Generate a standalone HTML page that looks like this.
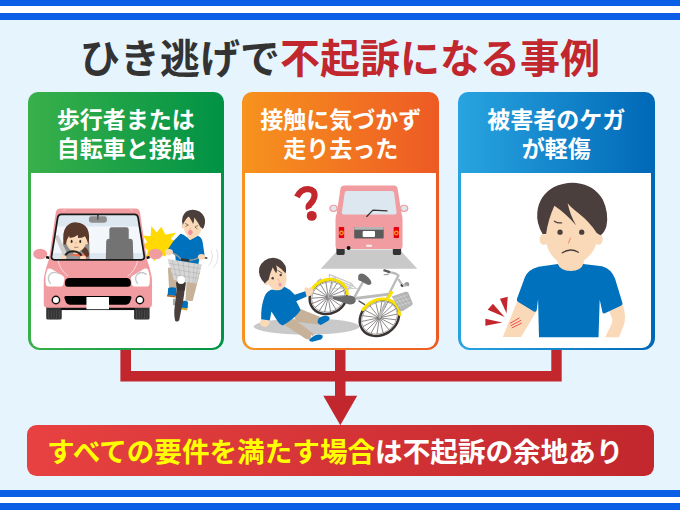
<!DOCTYPE html>
<html lang="ja">
<head>
<meta charset="utf-8">
<title>ひき逃げで不起訴になる事例</title>
<style>
html,body{margin:0;padding:0;}
body{width:680px;height:510px;overflow:hidden;background:#e6f4fe;font-family:"Liberation Sans",sans-serif;position:relative;}
.stripe{position:absolute;left:0;width:680px;height:20px;}
.stripe.top{top:0;background:linear-gradient(#0b5fe6 0,#0b5fe6 6.4px,#fff 6.4px,#fff 13.1px,#0b5fe6 13.1px,#0b5fe6 20px);}
.stripe.bot{top:490px;background:linear-gradient(#0b5fe6 0,#0b5fe6 6.8px,#fff 6.8px,#fff 13.5px,#0b5fe6 13.5px,#0b5fe6 20px);}
.card{position:absolute;top:92.4px;width:196.7px;height:258.1px;border-radius:10px 10px 12px 12px;}
.card .body{position:absolute;left:3.1px;right:3.1px;top:80.6px;bottom:2.9px;background:#fff;border-radius:0 0 9px 9px;}
#c1{left:27.5px;background:linear-gradient(90deg,#39b04a,#009245);}
#c2{left:242.3px;background:linear-gradient(90deg,#f7931e,#ed5a24);}
#c3{left:457.9px;background:linear-gradient(90deg,#29a4e0,#0068b7);}
.banner{position:absolute;left:27.3px;top:425.2px;width:627px;height:50.6px;border-radius:9.5px;background:linear-gradient(90deg,#e84141,#c1272d);}
.sr{position:absolute;color:transparent;font-size:1px;line-height:1px;overflow:hidden;width:1px;height:1px;white-space:nowrap;}
svg.layer{position:absolute;left:0;top:0;width:680px;height:510px;}
svg.layer text{font-family:"Liberation Sans","Noto Sans CJK JP",sans-serif;font-weight:bold;}
</style>
</head>
<body>
<div class="stripe top"></div>
<div class="stripe bot"></div>
<h1 class="sr" style="left:78px;top:40px;margin:0">ひき逃げで不起訴になる事例</h1>
<div class="card" id="c1"><div class="body"></div><p class="sr" style="margin:0;left:30px;top:20px">歩行者または自転車と接触</p></div>
<div class="card" id="c2"><div class="body"></div><p class="sr" style="margin:0;left:30px;top:20px">接触に気づかず走り去った</p></div>
<div class="card" id="c3"><div class="body"></div><p class="sr" style="margin:0;left:30px;top:20px">被害者のケガが軽傷</p></div>
<svg class="layer" viewBox="0 0 680 510">
<g id="arrows" fill="#c1272d">
<path d="M120.4 350h10.6v21.1h204V350h10.5v21.1h205.8V350h10.4v31.6H345.5v14.2h11.7L340.3 425.2 323.3 395.8h11.7V381.6H120.4z"/>
</g>
</svg>
<div class="banner"><p class="sr" style="margin:0;left:20px;top:12px">すべての要件を満たす場合は不起訴の余地あり</p></div>
<svg class="layer" viewBox="0 0 680 510">
<g id="title">
<text x="80" y="73" font-size="40" fill="#333">ひき逃げで<tspan fill="#c1272d">不起訴になる事例</tspan></text>
</g>
<g id="heads" fill="#fff">
<text x="125.85" y="128" font-size="23" text-anchor="middle">歩行者または</text>
<text x="125.85" y="157" font-size="23" text-anchor="middle">自転車と接触</text>
<text x="340.65" y="128" font-size="23" text-anchor="middle">接触に気づかず</text>
<text x="340.65" y="157" font-size="23" text-anchor="middle">走り去った</text>
<text x="556.25" y="128" font-size="23" text-anchor="middle">被害者のケガ</text>
<text x="556.25" y="157" font-size="23" text-anchor="middle">が軽傷</text>
</g>
<g id="bannertext">
<text x="47" y="462" font-size="27.6" fill="#ffff00">すべての要件を満たす場合<tspan fill="#fff">は不起訴の余地あり</tspan></text>
</g>
<g id="ill1">
<defs>
  <clipPath id="wsclip"><path d="M178 82 L592 82 Q610 82 613 100 L648 320 Q650 338 630 339 L140 339 Q120 338 122 320 L157 100 Q160 82 178 82 Z"/></clipPath>
</defs>
<!-- burst (behind mirror & cyclist) : cyclist zoom coords [140,205,225,285] scale 6.376 -->
<g transform="translate(140,205) scale(0.156832)">
  <path fill="#ffd900" d="M18 195 L68 200 L72 134 L106 176 L136 138 L162 190 L230 175 L196 216 L240 240 L200 262 L215 300 L175 300 L162 328 L122 314 L88 360 L76 320 L38 332 L50 290 L18 256 L46 236 Z"/>
  <!-- motion lines -->
  <path d="M452 288 Q478 340 438 388 M488 284 Q515 345 468 402" stroke="#c9c9c9" stroke-width="3.5" fill="none" stroke-linecap="round"/>
</g>
<!-- car: zoom coords [30,200,130,290] scale 5.67 -->
<g transform="translate(30,200) scale(0.17637)">
  <!-- tires -->
  <rect x="92" y="596" width="88" height="82" rx="9" fill="#333"/>
  <rect x="590" y="596" width="88" height="82" rx="9" fill="#333"/>
  <path d="M106 625v50M121 625v52M136 625v52M151 625v52M166 625v50M604 625v50M619 625v52M634 625v52M649 625v52M664 625v50" stroke="#555" stroke-width="4"/>
  <rect x="175" y="600" width="420" height="24" fill="#111"/>
  <!-- mirrors -->
  <path d="M92 316 L112 322 L110 336 L90 330 Z M678 316 L658 322 L660 336 L680 330 Z" fill="#111"/>
  <ellipse cx="58" cy="306" rx="40" ry="30" fill="#f19ca0"/>
  <ellipse cx="712" cy="306" rx="40" ry="30" fill="#f19ca0"/>
  <!-- body -->
  <path fill="#f19ca0" d="M385 48 L172 48 Q150 48 146 72 L108 335 Q85 400 78 450 L78 590 Q78 611 98 611 L672 611 Q692 611 692 590 L692 450 Q685 400 662 335 L624 72 Q620 48 598 48 Z"/>
  <!-- windshield -->
  <path fill="#dde7f0" d="M178 82 L592 82 Q610 82 613 100 L648 320 Q650 338 630 339 L140 339 Q120 338 122 320 L157 100 Q160 82 178 82 Z"/>
  <g clip-path="url(#wsclip)">
    <path d="M150 150 L620 150 L640 300 L130 300 Z" fill="#f3f7fb"/>
    <!-- passenger seat -->
    <rect x="450" y="155" width="110" height="75" rx="14" fill="#737373"/>
    <path d="M445 220 L568 220 Q582 220 583 235 L586 340 L430 340 L432 235 Q433 220 445 220 Z" fill="#737373"/>
    <!-- driver seat -->
    <path d="M200 225 L322 225 Q336 225 336 240 L338 340 L186 340 L187 240 Q188 225 200 225 Z" fill="#8c8c8c"/>
    <!-- seatbelt -->
    <path d="M138 205 L160 198 L212 305 L190 318 Z" fill="#cfcfcf"/>
    <!-- body clothes -->
    <path d="M228 312 Q270 298 315 308 L325 340 L222 340 Z" fill="#f26a4b"/>
    <!-- ponytail -->
    <path d="M298 262 Q330 270 335 305 Q335 325 318 322 Q305 300 292 290 Z" fill="#5b3a2e"/>
    <!-- neck -->
    <rect x="245" y="275" width="36" height="30" fill="#fad9b8"/>
    <!-- face -->
    <path d="M204 215 Q204 290 262 292 Q320 290 320 215 L320 180 L204 180 Z" fill="#fad9b8"/>
    <ellipse cx="203" cy="238" rx="10" ry="14" fill="#fad9b8"/>
    <ellipse cx="321" cy="238" rx="10" ry="14" fill="#fad9b8"/>
    <!-- hair -->
    <path fill="#5b3a2e" d="M192 252 Q180 185 205 152 Q232 124 265 127 Q305 130 324 160 Q342 195 331 255 Q326 228 312 205 Q295 216 272 216 Q274 204 270 198 Q252 213 226 216 Q224 209 221 204 Q207 222 204 252 Z"/>
    <ellipse cx="236" cy="235" rx="5.5" ry="9" fill="#3a2a25"/>
    <ellipse cx="285" cy="235" rx="5.5" ry="9" fill="#3a2a25"/>
    <path d="M256 243 l6 0" stroke="#f0916b" stroke-width="4" stroke-linecap="round"/>
    <path d="M252 268 l20 0" stroke="#7a4a3a" stroke-width="3.5" stroke-linecap="round"/>
    <!-- steering wheel -->
    <ellipse cx="246" cy="330" rx="38" ry="16" fill="#9a9a9a"/><path d="M194 326 Q206 292 244 291 Q282 292 296 324" stroke="#222" stroke-width="11" fill="none"/>
    <!-- hands -->
    <ellipse cx="190" cy="325" rx="17" ry="13" fill="#fad9b8"/>
    <ellipse cx="300" cy="327" rx="17" ry="13" fill="#fad9b8"/>
    <!-- rear-view mirror -->
    <rect x="380" y="80" width="9" height="30" fill="#444"/>
    <rect x="334" y="92" width="102" height="37" rx="14" fill="#8c8c8c"/>
    <rect x="380" y="84" width="9" height="28" fill="#555"/>
  </g>
  <path fill="none" stroke="#1a1a1a" stroke-width="10" d="M178 82 L592 82 Q610 82 613 100 L648 320 Q650 338 630 339 L140 339 Q120 338 122 320 L157 100 Q160 82 178 82 Z"/>
  <!-- hood lines -->
  <path d="M160 345 Q172 400 216 432 M610 345 Q598 400 554 432" stroke="#fff" stroke-width="3.5" fill="none"/>
  <path d="M190 62 l8 -8 M580 62 l-8 -8" stroke="#fff" stroke-width="3.5" fill="none"/>
  <!-- headlights -->
  <path fill="#fff" d="M108 388 Q100 388 96 400 L88 432 Q86 455 90 480 Q92 490 102 490 L178 490 Q188 490 190 478 L195 445 Q196 436 186 430 L120 390 Q114 387 108 388 Z"/>
  <path fill="#fff" d="M659 388 Q667 388 671 400 L679 432 Q681 455 677 480 Q675 490 665 490 L589 490 Q579 490 577 478 L572 445 Q571 436 581 430 L647 390 Q653 387 659 388 Z"/>
  <path d="M164 418 Q128 398 108 428 Q98 452 116 474" stroke="#c2c6c6" stroke-width="7" fill="none" stroke-linecap="round"/>
  <path d="M660 421 Q624 398 603 428 Q592 452 610 472" stroke="#c2c6c6" stroke-width="7" fill="none" stroke-linecap="round"/>
  <!-- grilles -->
  <path d="M222 442 L548 442 Q565 442 570 458 Q576 475 570 485 Q565 492 552 492 L218 492 Q205 492 200 485 Q194 475 200 458 Q205 442 222 442 Z" fill="#000"/>
  <path d="M205 544 L565 544 Q578 544 574 558 L566 580 Q560 594 545 594 L225 594 Q210 594 204 580 L196 558 Q192 544 205 544 Z" fill="#000"/>
  <!-- fog lights -->
  <circle cx="147" cy="567" r="25" fill="#111"/><circle cx="147" cy="567" r="17" fill="#fff"/>
  <circle cx="623" cy="567" r="25" fill="#111"/><circle cx="623" cy="567" r="17" fill="#fff"/>
  <!-- plate -->
  <rect x="320" y="550" width="128" height="70" rx="3" fill="#fff"/>
</g>
<!-- cyclist: zoom coords [140,205,225,285] scale 6.376 -->
<g transform="translate(140,205) scale(0.156832)">
  <!-- pants -->
  <path d="M178 400 L235 400 L238 530 L185 530 Z" fill="#c7b299"/>
  <path d="M300 430 L385 420 L336 612 L290 610 Z" fill="#c7b299"/>
  <!-- shoes -->
  <path d="M180 530 Q205 518 232 530 L232 580 L176 575 Z" fill="#0071bc"/>
  <path d="M172 572 L228 580 L226 590 L172 584 Z" fill="#b5651d"/>
  <path d="M264 615 Q290 605 306 618 L304 660 L260 655 Z" fill="#0071bc"/>
  <path d="M258 652 L302 660 L300 672 L257 665 Z" fill="#d9a021"/>
  <rect x="210" y="598" width="14" height="42" rx="4" fill="#aaa"/>
  <!-- tire -->
  <path d="M238 500 L286 500 Q286 565 268 645 L250 735 Q238 750 224 738 Q214 700 222 640 Z" fill="#4a3f3d"/>
  <path d="M230 500 Q232 478 262 478 Q292 478 292 500 L286 545 L236 545 Z" fill="#3a3432"/>
  <!-- neck -->
  <path d="M305 185 L352 195 L345 235 L300 225 Z" fill="#fad9b8"/>
  <!-- body -->
  <path fill="#0071bc" d="M258 183 Q290 190 318 225 Q350 210 365 195 Q395 205 400 240 L412 322 L378 345 L372 380 L228 355 L225 322 L200 300 L178 282 Q210 225 258 183 Z"/>
  <!-- head -->
  <path d="M275 120 Q270 70 330 60 Q395 65 395 130 Q392 175 365 200 Q340 220 310 205 Q280 185 275 120 Z" fill="#fad9b8"/>
  <ellipse cx="277" cy="135" rx="12" ry="15" fill="#fad9b8"/>
  <path fill="#4b3f3d" d="M272 128 Q257 75 295 42 Q335 18 380 42 Q422 72 414 120 Q410 142 400 153 Q392 144 385 140 Q366 105 346 80 Q346 100 339 121 Q326 95 311 74 Q298 82 291 94 Q280 110 272 128 Z"/>
  <!-- eyes -->
  <path d="M290 118 L308 128 L292 136 M368 132 L350 140 L364 152" stroke="#4b3f3d" stroke-width="4" fill="none" stroke-linecap="round" stroke-linejoin="round"/>
  <path d="M322 146 l-4 10" stroke="#f0916b" stroke-width="3.5" stroke-linecap="round"/>
  <ellipse cx="321" cy="175" rx="15" ry="16" fill="#f4919d" transform="rotate(10 321 175)"/>
  <!-- handlebar -->
  <path d="M205 305 Q235 315 262 345 M318 352 Q350 350 385 332" stroke="#9a9a9a" stroke-width="9" fill="none" stroke-linecap="round"/>
  <path d="M398 334 L425 338" stroke="#4a3f3d" stroke-width="11" stroke-linecap="round"/>
  <path d="M262 340 L315 346 L312 362 L260 356 Z" fill="#333"/>
  <!-- hands -->
  <ellipse cx="185" cy="300" rx="25" ry="20" fill="#fad9b8"/>
  <ellipse cx="392" cy="330" rx="23" ry="18" fill="#fad9b8"/>
  <!-- basket -->
  <path d="M176 344 L396 380 L358 500 L216 478 Z" fill="#d6d6d6"/>
  <path d="M205 349 L238 482 M240 355 L262 485 M275 360 L288 489 M310 366 L314 493 M345 372 L338 497 M372 377 L350 499 M182 372 L388 406 M190 405 L378 437 M200 440 L368 468" stroke="#a3a3a3" stroke-width="2.5" fill="none"/>
  <!-- light -->
  <circle cx="262" cy="478" r="25" fill="#fff"/>
</g>

</g>
<g id="ill2">
<!-- road + car: zoom region [320,178,420,268], scale 5.67 -->
<g transform="translate(320,178) scale(0.17637)">
  <path d="M105 405 L450 405 L552 514 L4 514 Z" fill="#c9c9c9"/>
  <!-- tires -->
  <rect x="93" y="380" width="47" height="56" rx="8" fill="#333"/>
  <rect x="413" y="380" width="47" height="56" rx="8" fill="#333"/>
  <!-- mirrors -->
  <ellipse cx="77" cy="172" rx="24" ry="21" fill="#f19ca0"/>
  <ellipse cx="77" cy="172" rx="16" ry="14" fill="#dde7f0"/>
  <ellipse cx="477" cy="172" rx="24" ry="21" fill="#f19ca0"/>
  <ellipse cx="477" cy="172" rx="16" ry="14" fill="#dde7f0"/>
  <!-- body -->
  <path fill="#f19ca0" d="M138 42 L420 42 Q436 42 440 60 L462 200 Q468 215 468 235 L468 385 Q468 402 452 402 L104 402 Q88 402 88 385 L88 235 Q88 215 95 200 L116 60 Q120 42 138 42 Z"/>
  <!-- window -->
  <path fill="#dde7f0" d="M152 74 L408 74 Q418 74 420 84 L434 196 Q435 207 424 207 L134 207 Q123 207 124 196 L140 84 Q142 74 152 74 Z"/>
  <!-- wiper -->
  <path d="M265 218 L300 182 L380 187" stroke="#333" stroke-width="7" fill="none" stroke-linecap="round" stroke-linejoin="round"/>
  <!-- tail lights -->
  <rect x="107" y="278" width="30" height="62" rx="3" fill="#e60012"/>
  <circle cx="122" cy="312" r="10" fill="none" stroke="#f7931e" stroke-width="7.5"/>
  <rect x="418" y="278" width="30" height="62" rx="3" fill="#e60012"/>
  <circle cx="433" cy="312" r="10" fill="none" stroke="#f7931e" stroke-width="7.5"/>
  <!-- plate area -->
  <rect x="194" y="278" width="167" height="65" rx="6" fill="#5a5a5a"/>
  <path d="M200 278 L355 278 Q361 278 361 284 L361 293 L194 293 L194 284 Q194 278 200 278 Z" fill="#b5b5b5"/>
  <rect x="242" y="300" width="70" height="35" rx="6" fill="#fff"/>
  <rect x="262" y="378" width="32" height="12" rx="3" fill="#fdf3f3"/>
  <circle cx="162" cy="397" r="11" fill="#111"/>
</g>
<!-- question mark: zoom region [280,178,340,232], scale 9.45 -->
<g transform="translate(280,178) scale(0.10582)">
  <path d="M160 178 Q195 104 265 104 Q332 110 326 172 Q318 215 285 245 Q262 268 274 292" stroke="#c1272d" stroke-width="58" fill="none"/>
  <circle cx="300" cy="358" r="47" fill="#c1272d"/>
</g>
<!-- shadows -->
<ellipse cx="306.6" cy="326.5" rx="52.8" ry="8" fill="#c9c9c9"/>

<g transform="translate(300,262) scale(0.17647)">
  <!-- rear rack -->
  <path d="M165 70 L290 120 L315 150 M165 70 L170 110 M200 84 L205 120 M290 120 L275 160 M170 100 L300 150 M180 90 L300 138" stroke="#c9c9c9" stroke-width="6.5" fill="none"/>
  <path d="M100 110 l18 -12" stroke="#bdbdbd" stroke-width="10" stroke-linecap="round"/>
  <g transform="translate(160,198) rotate(-27)"><ellipse rx="108" ry="94" fill="#fff" stroke="#3a3432" stroke-width="14"/><ellipse rx="97.0" ry="83.0" fill="none" stroke="#a8a8a8" stroke-width="5"/><path d="M0 0L97 8M0 0L87 36M0 0L68 59M0 0L40 76M0 0L7 83M0 0L-26 80M0 0L-57 67M0 0L-80 47M0 0L-94 20M0 0L-97 -8M0 0L-87 -36M0 0L-68 -59M0 0L-40 -76M0 0L-7 -83M0 0L26 -80M0 0L57 -67M0 0L80 -47M0 0L94 -20" stroke="#3f3a39" stroke-width="3" fill="none"/><circle r="10" fill="#8a8a8a"/><path d="M-62.6 -80.1 A111 97 0 0 1 104.0 33.8" stroke="#fbe100" stroke-width="17" fill="none" stroke-linecap="round"/></g>
  <path d="M160 200 L195 85" stroke="#c4c4c4" stroke-width="6" fill="none"/>
  <!-- front wheel -->
  <g transform="translate(450,316) rotate(-33)"><ellipse rx="117" ry="97" fill="#fff" stroke="#3a3432" stroke-width="14"/><ellipse rx="106.0" ry="86.0" fill="none" stroke="#a8a8a8" stroke-width="5"/><path d="M0 0L105 9M0 0L95 37M0 0L74 62M0 0L44 78M0 0L8 86M0 0L-29 83M0 0L-62 70M0 0L-88 48M0 0L-103 21M0 0L-105 -9M0 0L-95 -37M0 0L-74 -62M0 0L-44 -78M0 0L-8 -86M0 0L29 -83M0 0L62 -70M0 0L88 -48M0 0L103 -21" stroke="#3f3a39" stroke-width="3" fill="none"/><circle r="10" fill="#8a8a8a"/><path d="M-53.7 -89.4 A120 100 0 0 1 105.8 47.1" stroke="#fbe100" stroke-width="17" fill="none" stroke-linecap="round"/></g>
  <!-- frame -->
  <path d="M160 200 L290 215" stroke="#a8a8a8" stroke-width="10" fill="none"/>
  <path d="M357 112 L300 215" stroke="#bababa" stroke-width="14" fill="none"/>
  <path d="M300 208 L505 182" stroke="#bababa" stroke-width="17" fill="none" stroke-linecap="round"/>
  <path d="M180 150 L330 150" stroke="#c4c4c4" stroke-width="4" fill="none"/>
  <!-- fork / head -->
  <path d="M558 75 L500 190 L450 316" stroke="#bababa" stroke-width="13" fill="none" stroke-linejoin="round"/>
  <path d="M522 166 L490 218" stroke="#fbe100" stroke-width="18" fill="none"/>
  <!-- handlebars -->
  <path d="M500 58 Q545 60 558 78 M560 100 Q585 150 612 125" stroke="#bababa" stroke-width="13" fill="none" stroke-linecap="round"/>
  <path d="M478 48 L505 56" stroke="#5a5a5a" stroke-width="13" stroke-linecap="round"/>
  <path d="M476 72 L500 70" stroke="#9a9a9a" stroke-width="6" stroke-linecap="round"/>
  <path d="M572 128 l10 12" stroke="#333" stroke-width="10"/>
  <path d="M598 122 Q615 115 612 130" stroke="#9a9a9a" stroke-width="14" fill="none" stroke-linecap="round"/>
  <!-- seat -->
  <path d="M330 78 Q338 58 362 68 Q402 92 405 120 Q398 136 376 126 Q345 108 330 102 Z" fill="#6b6b6b"/>
  <!-- chain guard -->
  <path d="M185 198 L285 190 Q318 195 315 222 Q305 245 275 240 L190 212 Z" fill="#6b6b6b"/>
  <path d="M335 222 l30 18" stroke="#555" stroke-width="9" stroke-linecap="round"/>
  <!-- basket -->
  <path d="M520 195 L598 169 Q610 166 615 176 L638 232 Q640 242 632 247 L580 279 Q571 282 565 273 Z" fill="#b3b3b3"/>
  <path d="M532 201 L578 265 M547 195 L594 259 M564 189 L609 251 M582 183 L624 243 M528 213 L612 186 M538 231 L622 206 M550 251 L630 226" stroke="#e4e4e4" stroke-width="2.5" fill="none"/>
</g>
<!-- fallen person: zoom region [250,250,340,345], scale 5.367 -->
<g transform="translate(250,250) scale(0.18634)">
  <!-- far leg (upper) -->
  <path d="M225 330 L275 318 L385 362 L368 400 L250 385 Z" fill="#c7b299"/>
  <path d="M368 368 Q395 345 425 358 Q432 370 420 380 L380 402 Q365 400 362 385 Z" fill="#0071bc"/>
  <!-- near leg -->
  <path d="M175 395 L235 370 L345 452 L322 482 L300 478 Z" fill="#c7b299"/>
  <path d="M330 455 L342 470 L322 482 Z" fill="#fff"/>
  <path d="M330 470 Q360 445 388 458 Q395 470 380 480 L335 492 Q318 492 318 482 Z" fill="#0071bc"/>
  <!-- left hand -->
  <path d="M62 372 Q50 385 55 400 Q70 420 90 410 Q110 400 105 380 Z" fill="#fad9b8"/>
  <!-- right hand -->
  <path d="M292 205 Q300 195 312 205 L325 198 Q340 205 338 225 Q335 245 315 248 L298 245 Z" fill="#fad9b8"/>
  <!-- neck -->
  <path d="M120 200 L170 185 L180 215 L130 230 Z" fill="#fad9b8"/>
  <!-- body -->
  <path fill="#0071bc" d="M118 212 Q150 225 180 195 Q215 210 240 240 L296 222 L304 250 L248 275 Q262 300 272 322 Q240 370 175 405 Q160 400 150 385 L115 330 L106 378 L60 372 Q58 300 78 250 Q90 220 118 212 Z"/>
  <!-- head -->
  <path d="M85 150 Q80 100 140 80 Q185 85 195 130 Q200 160 190 185 Q175 222 140 215 Q100 205 85 150 Z" fill="#fad9b8"/>
  <ellipse cx="88" cy="172" rx="13" ry="16" fill="#fad9b8"/>
  <path fill="#4b3f3d" d="M80 180 Q40 140 50 95 Q70 45 125 42 Q170 45 190 85 Q198 110 190 125 Q170 100 140 82 Q150 110 140 125 Q128 105 122 92 Q105 130 100 160 Q90 165 80 180 Z"/>
  <circle cx="122" cy="152" r="6.5" fill="#4b3f3d"/>
  <circle cx="165" cy="134" r="6.5" fill="#4b3f3d"/>
  <path d="M150 110 L172 124" stroke="#4b3f3d" stroke-width="4" stroke-linecap="round"/>
  <path d="M150 156 L156 166" stroke="#f0916b" stroke-width="3.5" stroke-linecap="round"/>
  <ellipse cx="161" cy="186" rx="8.5" ry="11" fill="#f39bb0" transform="rotate(-15 161 186)"/>
</g>

</g>
<g id="ill3">
<!-- body: authored in zoom coords of region [475,255,635,345] scale 4.25 -->
<g transform="translate(475,255) scale(0.235294)">
  <!-- arms -->
  <path fill="#fad9b8" d="M180 195 L118 348 L196 348 L262 238 Z"/>
  <path fill="#fad9b8" d="M570 238 L628 210 Q645 262 632 300 L612 350 L553 350 L575 305 Q590 280 580 262 Z"/>
  <!-- neck -->
  <path fill="#fad9b8" d="M352 -20 L352 45 Q405 115 462 45 L462 -20 Z"/>
  <!-- shirt -->
  <path fill="#0071bc" d="M352 38 Q362 66 407 68 Q452 66 460 38 L540 48 Q580 60 595 100 L627 205 Q628 212 620 216 L552 248 Q545 250 542 244 L530 190 L525 350 L272 350 L268 188 L262 236 Q258 244 250 240 L184 200 Q176 195 178 187 L212 95 Q225 62 270 50 Z"/>
  <!-- burst -->
  <g fill="#c1272d">
    <path d="M106 186 L139 177 L134 248 Z"/>
    <path d="M54 233 L76 207 L126 263 Z"/>
    <path d="M44 271 L44 301 L116 287 Z"/>
  </g>
  <g stroke="#e8474a" stroke-width="4" fill="none" stroke-linecap="round">
    <path d="M150 290 L188 268"/>
    <path d="M153 300 L195 278"/>
    <path d="M158 309 L197 290"/>
  </g>
</g>
<!-- head: zoom coords of region [520,175,620,265] scale 5.67 -->
<g transform="translate(520,175) scale(0.17637)">
  <!-- ears -->
  <ellipse cx="135" cy="365" rx="24" ry="31" fill="#fad9b8"/>
  <ellipse cx="445" cy="365" rx="24" ry="31" fill="#fad9b8"/>
  <!-- face -->
  <path fill="#fad9b8" d="M146 120 L146 360 Q150 440 215 490 Q285 535 355 490 Q430 440 438 360 L438 120 Z"/>
  <!-- hair -->
  <path fill="#4b3f3d" d="M128 335 Q92 270 98 215 Q105 120 190 70 Q250 40 320 45 Q420 55 470 140 Q505 215 490 290 Q480 325 456 342 L436 330 Q395 265 330 215 Q290 185 270 160 Q285 230 318 285 Q255 215 195 175 Q160 250 148 335 Z"/>
  <!-- eyes -->
  <circle cx="227" cy="324" r="15" fill="#4b3f3d"/>
  <circle cx="350" cy="324" r="15" fill="#4b3f3d"/>
  <!-- brows -->
  <path d="M195 262 Q215 275 236 271" stroke="#4b3f3d" stroke-width="7" fill="none" stroke-linecap="round"/>
  <!-- nose -->
  <path d="M286 357 L275 386" stroke="#f0916b" stroke-width="6" fill="none" stroke-linecap="round"/>
  <!-- mouth -->
  <path d="M240 441 Q285 412 331 438" stroke="#4b3f3d" stroke-width="8" fill="none" stroke-linecap="round"/>
</g>

</g>
</svg>
</body>
</html>
